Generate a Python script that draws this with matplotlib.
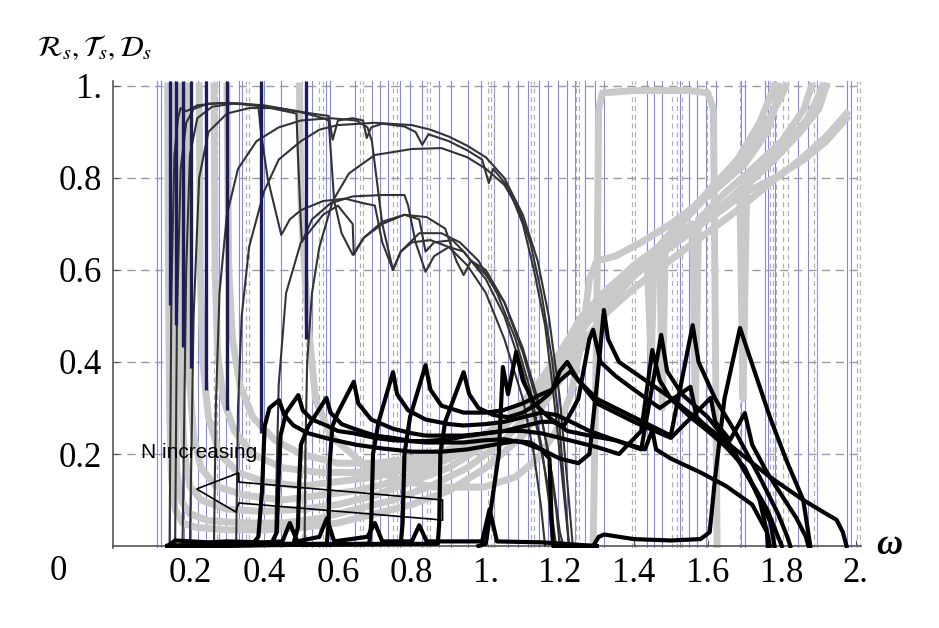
import matplotlib
matplotlib.use("Agg")
import matplotlib.pyplot as plt
from matplotlib.patches import Polygon

plt.rcParams['mathtext.fontset'] = 'stix'

# ---- data (omega, value) ----
# blue band-edge lines
blue_w = [0.112, 0.123, 0.147, 0.161, 0.183, 0.204, 0.223, 0.243, 0.278, 0.297,
          0.332, 0.341, 0.401, 0.447, 0.529, 0.569, 0.578, 0.646, 0.692, 0.714,
          0.736, 0.768, 0.796, 0.828, 0.872, 0.905, 0.951, 0.986, 1.022, 1.060,
          1.087, 1.114, 1.144, 1.169, 1.196, 1.218, 1.240, 1.267, 1.294, 1.319,
          1.436, 1.455, 1.477, 1.526, 1.550, 1.572, 1.594, 1.621, 1.689, 1.700,
          1.755, 1.763, 1.782, 1.845, 1.872, 1.894, 1.975, 1.986]
# gray dashed lines
dash_w = [0.264, 0.272, 0.351, 0.360, 0.504, 0.515, 0.550, 0.559, 0.659, 0.668,
          0.749, 0.760, 0.842, 0.850, 1.005, 1.014, 1.022, 1.123, 1.131, 1.245,
          1.253, 1.395, 1.403, 1.504, 1.518, 1.531, 1.599, 1.687, 1.768, 1.777,
          1.785, 1.804, 1.817, 1.886, 1.894, 2.003, 2.012]
# navy spikes (R of narrow windows)
navy_w = [0.145, 0.163, 0.180, 0.204, 0.243, 0.300, 0.392, 0.515]
navy_lo = [0.524, 0.480, 0.433, 0.387, 0.339, 0.296, 0.246, 0.45]

# R curves (thin dark)
R1 = [(0.145, 0.0), (0.150, 0.55), (0.158, 0.85), (0.168, 0.93), (0.175, 0.952), (0.19, 0.945),
      (0.22, 0.958), (0.28, 0.963), (0.34, 0.962), (0.385, 0.958), (0.392, 0.90), (0.41, 0.80),
      (0.447, 0.676), (0.47, 0.71), (0.50, 0.73), (0.56, 0.75), (0.62, 0.755), (0.67, 0.745),
      (0.70, 0.74), (0.72, 0.66), (0.749, 0.60), (0.77, 0.64), (0.80, 0.66), (0.85, 0.665),
      (0.90, 0.65), (0.95, 0.61), (1.0, 0.55), (1.05, 0.45), (1.10, 0.32), (1.13, 0.2),
      (1.15, 0.08), (1.16, 0.0)]
R2 = [(0.16, 0.0), (0.165, 0.5), (0.175, 0.82), (0.19, 0.92), (0.21, 0.95), (0.25, 0.962),
      (0.32, 0.962), (0.40, 0.955), (0.46, 0.945), (0.488, 0.94), (0.492, 0.85), (0.50, 0.70),
      (0.503, 0.661), (0.53, 0.71), (0.58, 0.745), (0.64, 0.76), (0.72, 0.763), (0.78, 0.763),
      (0.79, 0.74), (0.81, 0.66), (0.837, 0.596), (0.86, 0.63), (0.90, 0.65), (0.94, 0.64),
      (1.0, 0.58), (1.05, 0.5), (1.10, 0.38), (1.14, 0.25), (1.17, 0.12), (1.19, 0.0)]
R3 = [(0.18, 0.0), (0.19, 0.6), (0.20, 0.85), (0.22, 0.93), (0.26, 0.955), (0.32, 0.962),
      (0.40, 0.958), (0.47, 0.948), (0.53, 0.94), (0.575, 0.935), (0.586, 0.883), (0.60, 0.925),
      (0.64, 0.93), (0.668, 0.925), (0.678, 0.887), (0.69, 0.91), (0.72, 0.918), (0.78, 0.912),
      (0.81, 0.90), (0.828, 0.872), (0.845, 0.895), (0.90, 0.88), (0.95, 0.86), (0.99, 0.84),
      (1.008, 0.789), (1.02, 0.82), (1.06, 0.78), (1.10, 0.70), (1.13, 0.60), (1.16, 0.48),
      (1.18, 0.35), (1.20, 0.2), (1.215, 0.08), (1.225, 0.0)]
R4 = [(0.20, 0.0), (0.21, 0.5), (0.225, 0.8), (0.25, 0.9), (0.30, 0.94), (0.36, 0.952),
      (0.44, 0.952), (0.50, 0.943), (0.56, 0.93), (0.575, 0.925), (0.59, 0.75), (0.61, 0.68),
      (0.64, 0.633), (0.67, 0.67), (0.72, 0.70), (0.78, 0.72), (0.84, 0.715), (0.89, 0.69),
      (0.92, 0.62), (0.94, 0.589), (0.96, 0.62), (1.0, 0.60), (1.05, 0.53), (1.10, 0.42),
      (1.15, 0.28), (1.18, 0.15), (1.20, 0.03), (1.21, 0.0)]
R5 = [(0.265, 0.0), (0.27, 0.3), (0.28, 0.55), (0.30, 0.72), (0.33, 0.82), (0.38, 0.88),
      (0.44, 0.91), (0.50, 0.925), (0.58, 0.93), (0.65, 0.925), (0.68, 0.91), (0.692, 0.88),
      (0.72, 0.70), (0.749, 0.60), (0.77, 0.64), (0.82, 0.68), (0.88, 0.68), (0.93, 0.66),
      (0.98, 0.62), (1.03, 0.55), (1.08, 0.45), (1.12, 0.34), (1.15, 0.22), (1.17, 0.1),
      (1.18, 0.0)]
R6 = [(0.325, 0.0), (0.33, 0.3), (0.34, 0.5), (0.36, 0.65), (0.40, 0.77), (0.44, 0.84),
      (0.50, 0.88), (0.55, 0.905), (0.60, 0.915), (0.70, 0.92), (0.80, 0.915), (0.85, 0.905),
      (0.90, 0.89), (0.95, 0.87), (1.0, 0.845), (1.05, 0.80), (1.10, 0.72), (1.14, 0.62),
      (1.17, 0.5), (1.20, 0.32), (1.22, 0.14), (1.235, 0.0)]
R7 = [(0.51, 0.0), (0.512, 0.2), (0.517, 0.4), (0.53, 0.55), (0.55, 0.65), (0.586, 0.75),
      (0.63, 0.81), (0.70, 0.85), (0.80, 0.863), (0.88, 0.865), (0.95, 0.845), (1.0, 0.82),
      (1.05, 0.785), (1.09, 0.73), (1.12, 0.66), (1.15, 0.55), (1.18, 0.4), (1.20, 0.25),
      (1.215, 0.1), (1.225, 0.0)]
R8 = [(0.43, 0.0), (0.44, 0.35), (0.46, 0.55), (0.50, 0.66), (0.56, 0.72), (0.60, 0.74),
      (0.64, 0.70), (0.643, 0.633), (0.67, 0.67), (0.72, 0.705), (0.78, 0.72), (0.82, 0.71),
      (0.837, 0.64), (0.86, 0.66), (0.91, 0.665), (0.94, 0.64), (0.96, 0.62), (1.0, 0.59),
      (1.05, 0.53), (1.10, 0.43), (1.14, 0.32), (1.17, 0.2), (1.19, 0.08), (1.20, 0.0)]
r_curves = [R1, R2, R3, R4, R5, R6, R7, R8]

# T curves (thick black)
T1 = [(0.14, 0.0), (0.3, 0.0), (0.37, 0.005), (0.385, 0.02), (0.395, 0.12), (0.402, 0.26),
      (0.415, 0.3), (0.441, 0.317), (0.455, 0.285), (0.48, 0.262), (0.52, 0.245), (0.58, 0.232),
      (0.65, 0.22), (0.72, 0.212), (0.80, 0.205), (0.88, 0.205), (0.95, 0.21), (1.02, 0.22),
      (1.08, 0.228), (1.12, 0.225), (1.15, 0.21), (1.172, 0.19), (1.178, 0.05), (1.182, 0.0),
      (1.29, 0.0), (1.305, 0.02), (1.32, 0.025), (1.40, 0.015), (1.50, 0.012), (1.58, 0.015),
      (1.605, 0.03), (1.62, 0.15), (1.645, 0.32), (1.687, 0.474), (1.722, 0.39), (1.768, 0.28),
      (1.812, 0.187), (1.858, 0.1), (1.877, 0.0)]
T2 = [(0.14, 0.0), (0.42, 0.005), (0.435, 0.03), (0.44, 0.15), (0.445, 0.24), (0.46, 0.29),
      (0.493, 0.328), (0.505, 0.295), (0.53, 0.275), (0.569, 0.262), (0.60, 0.25), (0.643, 0.245),
      (0.70, 0.235), (0.749, 0.23), (0.80, 0.228), (0.837, 0.228), (0.90, 0.232), (0.94, 0.238),
      (1.0, 0.245), (1.046, 0.25), (1.10, 0.25), (1.15, 0.245), (1.20, 0.235), (1.25, 0.225),
      (1.30, 0.215), (1.36, 0.2), (1.42, 0.25), (1.45, 0.426), (1.47, 0.36), (1.50, 0.32),
      (1.553, 0.28), (1.60, 0.25), (1.65, 0.215), (1.70, 0.17), (1.74, 0.1), (1.76, 0.03),
      (1.763, 0.0)]
T3 = [(0.14, 0.0), (0.48, 0.005), (0.492, 0.04), (0.496, 0.15), (0.50, 0.22), (0.52, 0.26),
      (0.569, 0.322), (0.58, 0.29), (0.61, 0.265), (0.643, 0.255), (0.70, 0.24), (0.749, 0.235),
      (0.80, 0.228), (0.837, 0.225), (0.90, 0.225), (0.94, 0.225), (1.0, 0.23), (1.05, 0.232),
      (1.10, 0.225), (1.15, 0.21), (1.20, 0.19), (1.25, 0.18), (1.28, 0.2), (1.30, 0.35),
      (1.319, 0.513), (1.33, 0.45), (1.36, 0.40), (1.403, 0.376), (1.45, 0.35), (1.496, 0.324),
      (1.586, 0.267), (1.676, 0.209), (1.768, 0.15), (1.858, 0.10), (1.92, 0.07), (1.948, 0.057),
      (1.965, 0.03), (1.975, 0.0)]
T4 = [(0.14, 0.0), (0.57, 0.005), (0.575, 0.05), (0.578, 0.18), (0.585, 0.26), (0.60, 0.29),
      (0.643, 0.357), (0.655, 0.31), (0.69, 0.275), (0.749, 0.255), (0.80, 0.245), (0.837, 0.24),
      (0.90, 0.24), (0.94, 0.24), (1.0, 0.245), (1.05, 0.25), (1.10, 0.26), (1.15, 0.27),
      (1.18, 0.27), (1.21, 0.26), (1.25, 0.32), (1.28, 0.45), (1.29, 0.47), (1.31, 0.40),
      (1.35, 0.37), (1.40, 0.34), (1.47, 0.30), (1.553, 0.346), (1.57, 0.28), (1.62, 0.24),
      (1.68, 0.19), (1.73, 0.12), (1.77, 0.05), (1.78, 0.0)]
T5 = [(0.14, 0.0), (0.685, 0.005), (0.69, 0.05), (0.695, 0.2), (0.71, 0.27), (0.749, 0.378),
      (0.76, 0.33), (0.79, 0.295), (0.837, 0.275), (0.90, 0.265), (0.94, 0.262), (1.0, 0.265),
      (1.05, 0.27), (1.10, 0.28), (1.15, 0.29), (1.19, 0.285), (1.23, 0.27), (1.28, 0.25),
      (1.35, 0.23), (1.42, 0.21), (1.474, 0.459), (1.49, 0.38), (1.53, 0.33), (1.60, 0.28),
      (1.66, 0.22), (1.71, 0.15), (1.76, 0.08), (1.79, 0.02), (1.80, 0.0)]
T6 = [(0.14, 0.0), (0.77, 0.005), (0.775, 0.05), (0.78, 0.2), (0.795, 0.28), (0.837, 0.393),
      (0.85, 0.34), (0.88, 0.305), (0.94, 0.29), (1.0, 0.29), (1.046, 0.295), (1.10, 0.31),
      (1.15, 0.33), (1.18, 0.34), (1.20, 0.38), (1.22, 0.40), (1.25, 0.36), (1.30, 0.32),
      (1.40, 0.28), (1.50, 0.24), (1.559, 0.48), (1.575, 0.40), (1.62, 0.32), (1.68, 0.24),
      (1.74, 0.15), (1.79, 0.07), (1.815, 0.02), (1.823, 0.0)]
T7 = [(0.14, 0.0), (0.87, 0.005), (0.874, 0.05), (0.877, 0.2), (0.89, 0.27), (0.94, 0.378),
      (0.955, 0.33), (0.98, 0.30), (1.02, 0.285), (1.06, 0.28), (1.10, 0.29), (1.14, 0.31),
      (1.17, 0.33), (1.20, 0.36), (1.23, 0.38), (1.26, 0.35), (1.30, 0.31), (1.40, 0.27),
      (1.50, 0.235), (1.608, 0.322), (1.62, 0.27), (1.66, 0.23), (1.70, 0.289), (1.72, 0.22),
      (1.76, 0.16), (1.80, 0.11), (1.84, 0.06), (1.865, 0.02), (1.872, 0.0)]
T8 = [(0.98, 0.0), (1.0, 0.005), (1.035, 0.2), (1.046, 0.389), (1.06, 0.33), (1.082, 0.422),
      (1.10, 0.36), (1.13, 0.31), (1.17, 0.28), (1.22, 0.25), (1.28, 0.24), (1.35, 0.23),
      (1.43, 0.21), (1.45, 0.252), (1.46, 0.21), (1.50, 0.19), (1.58, 0.16), (1.65, 0.13),
      (1.72, 0.09), (1.76, 0.03), (1.768, 0.0)]
T_low = [(0.14, 0.0), (0.16, 0.012), (0.25, 0.008), (0.30, 0.01), (0.40, 0.008), (0.45, 0.01),
         (0.47, 0.05), (0.49, 0.01), (0.55, 0.02), (0.57, 0.06), (0.59, 0.01), (0.68, 0.02),
         (0.70, 0.05), (0.72, 0.01), (0.80, 0.01), (0.82, 0.045), (0.84, 0.01), (0.99, 0.01),
         (1.01, 0.08), (1.03, 0.01), (1.15, 0.008), (1.30, 0.0)]
t_curves = [T1, T2, T3, T4, T5, T6, T7, T8, T_low]

# D curves (thick light gray)
D1 = [(0.14, 1.0), (0.142, 0.6), (0.145, 0.3), (0.15, 0.15), (0.16, 0.08), (0.18, 0.05),
      (0.22, 0.04), (0.30, 0.035), (0.40, 0.035), (0.50, 0.04), (0.60, 0.05), (0.70, 0.07),
      (0.80, 0.09), (0.90, 0.12), (1.0, 0.17), (1.10, 0.24), (1.20, 0.36), (1.30, 0.48),
      (1.36, 0.55), (1.436, 0.62), (1.447, 0.40), (1.455, 0.64), (1.52, 0.70), (1.60, 0.77),
      (1.68, 0.84), (1.74, 0.92), (1.77, 0.98), (1.78, 1.0)]
D2 = [(0.155, 1.0), (0.157, 0.6), (0.16, 0.3), (0.165, 0.16), (0.175, 0.1), (0.20, 0.07),
      (0.25, 0.055), (0.35, 0.05), (0.45, 0.05), (0.55, 0.06), (0.65, 0.08), (0.75, 0.10),
      (0.85, 0.13), (0.95, 0.17), (1.05, 0.23), (1.15, 0.32), (1.22, 0.42), (1.30, 0.52),
      (1.40, 0.60), (1.47, 0.65), (1.477, 0.30), (1.485, 0.66), (1.55, 0.72), (1.62, 0.78),
      (1.70, 0.85), (1.76, 0.92), (1.80, 0.98), (1.81, 1.0)]
D3 = [(0.17, 1.0), (0.172, 0.6), (0.176, 0.35), (0.185, 0.2), (0.20, 0.13), (0.23, 0.1),
      (0.30, 0.08), (0.40, 0.075), (0.50, 0.08), (0.60, 0.09), (0.70, 0.11), (0.80, 0.14),
      (0.90, 0.17), (1.0, 0.22), (1.10, 0.3), (1.18, 0.38), (1.25, 0.46), (1.32, 0.55),
      (1.40, 0.61), (1.50, 0.67), (1.559, 0.70), (1.566, 0.28), (1.575, 0.71), (1.65, 0.77),
      (1.72, 0.82), (1.80, 0.88), (1.86, 0.95), (1.88, 1.0)]
D4 = [(0.19, 1.0), (0.192, 0.6), (0.197, 0.38), (0.21, 0.24), (0.23, 0.17), (0.27, 0.13),
      (0.35, 0.11), (0.45, 0.10), (0.55, 0.11), (0.65, 0.12), (0.75, 0.14), (0.85, 0.17),
      (0.95, 0.21), (1.05, 0.27), (1.13, 0.34), (1.20, 0.42), (1.26, 0.50), (1.33, 0.56),
      (1.42, 0.62), (1.52, 0.67), (1.62, 0.72), (1.687, 0.76), (1.695, 0.32), (1.705, 0.77),
      (1.78, 0.80), (1.86, 0.84), (1.92, 0.88), (1.975, 0.93)]
D5 = [(0.225, 1.0), (0.228, 0.6), (0.235, 0.4), (0.25, 0.28), (0.28, 0.2), (0.33, 0.16),
      (0.40, 0.14), (0.50, 0.13), (0.60, 0.14), (0.70, 0.15), (0.80, 0.17), (0.90, 0.2),
      (1.0, 0.24), (1.08, 0.29), (1.15, 0.36), (1.22, 0.44), (1.30, 0.52), (1.38, 0.58),
      (1.46, 0.63), (1.55, 0.68), (1.64, 0.74), (1.72, 0.80), (1.80, 0.86), (1.87, 0.93),
      (1.90, 0.98), (1.91, 1.0)]
D6 = [(0.265, 1.0), (0.268, 0.6), (0.275, 0.42), (0.29, 0.32), (0.32, 0.25), (0.37, 0.2),
      (0.45, 0.17), (0.55, 0.16), (0.65, 0.16), (0.75, 0.17), (0.85, 0.19), (0.95, 0.22),
      (1.05, 0.27), (1.12, 0.32), (1.18, 0.38), (1.24, 0.45), (1.30, 0.51), (1.36, 0.56),
      (1.42, 0.6), (1.50, 0.65), (1.60, 0.71), (1.70, 0.78), (1.78, 0.84), (1.85, 0.90),
      (1.90, 0.95), (1.92, 1.0)]
D7 = [(0.30, 1.0), (0.305, 0.6), (0.315, 0.45), (0.335, 0.35), (0.37, 0.28), (0.43, 0.23),
      (0.50, 0.2), (0.60, 0.18), (0.70, 0.18), (0.80, 0.19), (0.90, 0.21), (1.0, 0.24),
      (1.08, 0.28), (1.15, 0.33), (1.21, 0.39), (1.27, 0.45), (1.33, 0.51), (1.40, 0.56),
      (1.48, 0.61), (1.58, 0.67), (1.68, 0.73), (1.77, 0.79), (1.85, 0.84), (1.92, 0.89),
      (1.975, 0.94)]
D8 = [(0.496, 1.0), (0.50, 0.75), (0.51, 0.6), (0.52, 0.48), (0.54, 0.317), (0.58, 0.24),
      (0.678, 0.172), (0.76, 0.145), (0.858, 0.128), (0.995, 0.128), (1.08, 0.15), (1.14, 0.19),
      (1.19, 0.25), (1.23, 0.33), (1.26, 0.45), (1.28, 0.58), (1.30, 0.62), (1.35, 0.63),
      (1.42, 0.66), (1.50, 0.70), (1.60, 0.76), (1.70, 0.83), (1.76, 0.9), (1.78, 0.95),
      (1.79, 1.0)]
D9 = [(1.29, 0.0), (1.30, 0.5), (1.305, 0.95), (1.315, 0.985), (1.40, 0.99), (1.55, 0.99),
      (1.60, 0.985), (1.615, 0.95), (1.62, 0.5), (1.625, 0.0)]
d_curves = [D1, D2, D3, D4, D5, D6, D7, D8, D9]

xtick_vals = [0.2, 0.4, 0.6, 0.8, 1.0, 1.2, 1.4, 1.6, 1.8, 2.0]
xtick_text = ['0.2', '0.4', '0.6', '0.8', '1.', '1.2', '1.4', '1.6', '1.8', '2.']
ytick_vals = [0.2, 0.4, 0.6, 0.8, 1.0]
ytick_text = ['0.2', '0.4', '0.6', '0.8', '1.']

# block arrow outline "N increasing"
arrow_w = [0.218, 0.332, 0.332, 0.883, 0.883, 0.332, 0.324]
arrow_y = [0.124, 0.159, 0.139, 0.100, 0.0565, 0.0935, 0.074]

fig = plt.figure(figsize=(9.39, 6.28), dpi=100)
ax = fig.add_axes([0.1203, 0.1269, 0.7966, 0.7435])
ax.set_xlim(-0.008, 2.014)
ax.set_ylim(-0.005, 1.01)

for w in blue_w:
    ax.axvline(w, color='#6f6fff', lw=0.8, alpha=0.85, zorder=1)
for w in dash_w:
    ax.axvline(w, color='#b0b0b0', lw=0.9, dashes=(4, 3), zorder=1)
for yv in ytick_vals:
    ax.axhline(yv, color='#9a9a9a', lw=1.0, dashes=(6, 4), zorder=1)

for c in d_curves:
    ax.plot([p[0] for p in c], [p[1] for p in c], color='#c9c9c9', lw=5,
            solid_joinstyle='round', zorder=2)
for c in r_curves:
    ax.plot([p[0] for p in c], [p[1] for p in c], color='#333333', lw=1.5, zorder=3)
ax.vlines(navy_w, navy_lo, 1.01, color='#1c1c5a', lw=2.4, zorder=4)
for c in t_curves:
    ax.plot([p[0] for p in c], [p[1] for p in c], color='black', lw=3,
            solid_joinstyle='round', zorder=5)

ax.add_patch(Polygon(list(zip(arrow_w, arrow_y)), closed=True, fill=False,
                     edgecolor='black', lw=1.2, zorder=6))
ax.text(0.225, 0.204, 'N increasing', fontsize=15, family='Liberation Sans',
        ha='center', va='center', zorder=7)

# axes styling (Mathematica-like)
for s in ['top', 'right']:
    ax.spines[s].set_visible(False)
ax.spines['bottom'].set_position(('data', 0))
ax.spines['left'].set_color('#555555')
ax.spines['bottom'].set_color('#555555')
ax.spines['left'].set_linewidth(1.2)
ax.spines['bottom'].set_linewidth(1.2)
ax.set_xticks(xtick_vals)
ax.set_xticklabels(xtick_text)
ax.set_yticks(ytick_vals)
ax.set_yticklabels(ytick_text)
ax.tick_params(direction='in', length=4, color='#555555', labelsize=25, pad=8)
for lab in ax.get_xticklabels() + ax.get_yticklabels():
    lab.set_family('Liberation Serif')

fig.text(58 / 939, 1 - 572 / 628, '0', fontsize=25, family='Liberation Serif',
         ha='center', va='center')
fig.text(889 / 939, 1 - 545 / 628, 'ω', fontsize=26, family='Liberation Serif',
         fontweight='bold', style='italic', ha='center', va='center')
fig.text(95 / 939, 1 - 48 / 628, r'$\mathcal{R}_s,\mathcal{T}_s,\mathcal{D}_s$',
         fontsize=21, ha='center', va='center')

fig.savefig('out.png', dpi=100)
